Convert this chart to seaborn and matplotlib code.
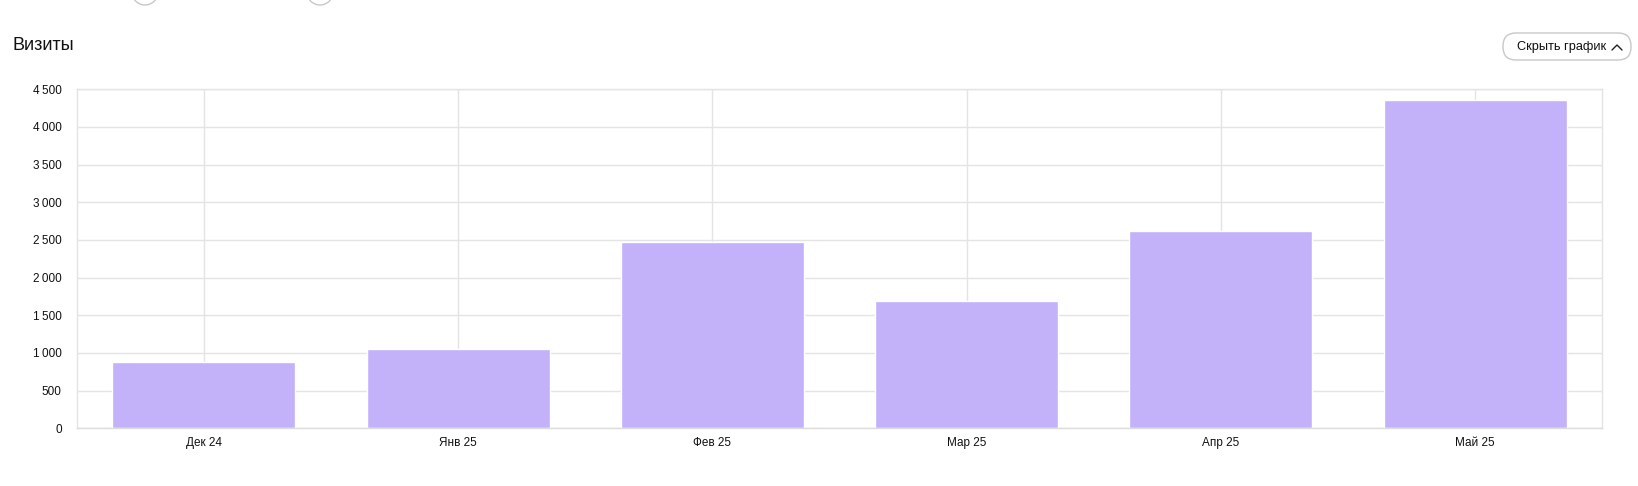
import matplotlib
matplotlib.use("Agg")
import matplotlib.pyplot as plt
import seaborn as sns
import pandas as pd
from matplotlib.ticker import FuncFormatter, MultipleLocator
from matplotlib.patches import FancyBboxPatch, Circle
from matplotlib.lines import Line2D
from matplotlib.transforms import IdentityTransform

months = ["Дек 24", "Янв 25", "Фев 25", "Мар 25", "Апр 25", "Май 25"]
visits = [880, 1053, 2473, 1690, 2622, 4358]
title_text = "Визиты"
button_text = "Скрыть график"

sns.set_theme(style="white")
plt.rcParams['font.family'] = ['Liberation Sans', 'DejaVu Sans']

df = pd.DataFrame({"month": months, "visits": visits})

W, H = 1638, 486
fig = plt.figure(figsize=(W / 100, H / 100), dpi=100)
ax = fig.add_axes([76.7 / W, 1 - 428.3 / H, (1602.3 - 76.7) / W, (428.3 - 89.3) / H])

grid_c = "#e4e4e4"

sns.barplot(data=df, x="month", y="visits", color="#c3b1fa", saturation=1,
            width=0.72, edgecolor="white", linewidth=1.0, ax=ax)

ax.set_axisbelow(True)
ax.xaxis.grid(True, color=grid_c, linewidth=1.0)
ax.yaxis.grid(True, color=grid_c, linewidth=1.0)

ax.set_ylim(0, 4500)
ax.set_xlim(-0.5, len(months) - 0.5)
ax.yaxis.set_major_locator(MultipleLocator(500))
ax.yaxis.set_major_formatter(FuncFormatter(lambda v, p: f"{int(v):,}".replace(",", "\u2009")))
ax.set_xlabel("")
ax.set_ylabel("")
ax.tick_params(axis="y", length=0, pad=10.8, labelsize=8.5, labelcolor="#111111")
ax.tick_params(axis="x", length=0, pad=6, labelsize=8.5, labelcolor="#111111")
for s in ax.spines.values():
    s.set_color(grid_c)
    s.set_linewidth(1.0)
ax.spines["bottom"].set_color("#dcdcdc")

# Title
fig.text(12 / W, 1 - 45 / H, title_text, fontsize=13, color="#111111",
         ha="left", va="center")

# Button at top right (pixel coordinates, origin bottom-left)
px = IdentityTransform()
bx0, bx1, by0, by1 = 1503, 1631, 33, 60
btn = FancyBboxPatch((bx0, H - by1), bx1 - bx0, by1 - by0,
                     boxstyle="round,pad=0,rounding_size=13", transform=px,
                     facecolor="white", edgecolor="#c8c8c8", linewidth=1.0)
fig.add_artist(btn)
fig.text(1517 / W, 1 - 47 / H, button_text, fontsize=9.2, color="#111111",
         ha="left", va="center")
cx, cy = 1617, 47
fig.add_artist(Line2D([cx - 5, cx, cx + 5], [H - (cy + 3), H - (cy - 2), H - (cy + 3)],
                      transform=px, color="#222222", linewidth=1.0))

# Partially visible circles at the top edge
for xc in (145, 320):
    fig.add_artist(Circle((xc, H + 8), 13, transform=px,
                          facecolor="white", edgecolor="#c8c8c8", linewidth=1.0,
                          clip_on=False))

fig.savefig("out.png", dpi=100)
